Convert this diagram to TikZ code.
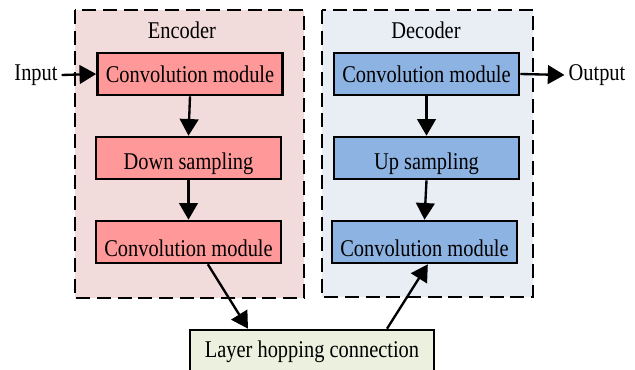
\documentclass[tikz,border=0pt]{standalone}
\usepackage{fontspec}
\setmainfont[FakeStretch=0.85]{Liberation Serif}
\usepackage{xcolor}
\usepackage{tikz}
\usetikzlibrary{arrows.meta}

\definecolor{encback}{HTML}{F2DCDB}
\definecolor{encbox}{HTML}{FF9999}
\definecolor{decback}{HTML}{E9EDF4}
\definecolor{decbox}{HTML}{8DB3E2}
\definecolor{hopbox}{HTML}{EBF1DE}

\begin{document}
\begin{tikzpicture}[x=0.03cm, y=-0.03cm, font=\fontsize{20.5}{24}\selectfont,
    module/.style={draw, line width=2.2pt, minimum width=5.55cm, minimum height=1.26cm, inner sep=0pt},
    low/.style={text height=0.86cm},
    group/.style={line width=2.2pt, dash pattern=on 0.42cm off 0.2cm},
    link/.style={line width=2pt, -{Triangle[length=0.5cm,width=0.56cm]}}]
    \useasboundingbox (0,0) rectangle (635,370);
    \clip (0,0) rectangle (635,370);

    % Encoder and decoder frames
    \draw[group, fill=encback] (75,10) rectangle (304,298);
    \draw[group, fill=decback] (322,10) rectangle (533,297);
    \node (enctitle) at (182,30) {Encoder};
    \node (dectitle) at (426,30) {Decoder};

    % Encoder
    \node[module, fill=encbox] (enc1) at (190,74) {Convolution module};
    \node[module, low, fill=encbox] (enc2) at (188.5,158) {Down sampling};
    \node[module, low, fill=encbox] (enc3) at (188.5,242) {Convolution module};

    % Decoder
    \node[module, fill=decbox] (dec1) at (426.5,74) {Convolution module};
    \node[module, low, fill=decbox] (dec2) at (426.5,158) {Up sampling};
    \node[module, low, fill=decbox] (dec3) at (424.5,242) {Convolution module};

    % Skip connection
    \node[draw, line width=2.2pt, fill=hopbox, minimum width=7.32cm, minimum height=1.32cm] (hop) at (312,352) {Layer hopping connection};

    % Input and output
    \node (in) at (36,75) {Input};
    \node (out) at (597,75) {Output};

    \draw[link] (in.east) -- (enc1.west);
    \draw[link] (enc1.south) -- (enc2.north);
    \draw[link] (enc2.south) -- (enc3.north);
    \draw[link] (dec1.south) -- (dec2.north);
    \draw[link] (dec2.south) -- (dec3.north);
    \draw[link] (dec1.east) -- (out.west);
    \draw[link] ([xshift=0.58cm]enc3.south) -- ([xshift=-1.92cm]hop.north);
    \draw[link] ([xshift=2.25cm]hop.north) -- ([xshift=0.1cm]dec3.south);
\end{tikzpicture}
\end{document}
